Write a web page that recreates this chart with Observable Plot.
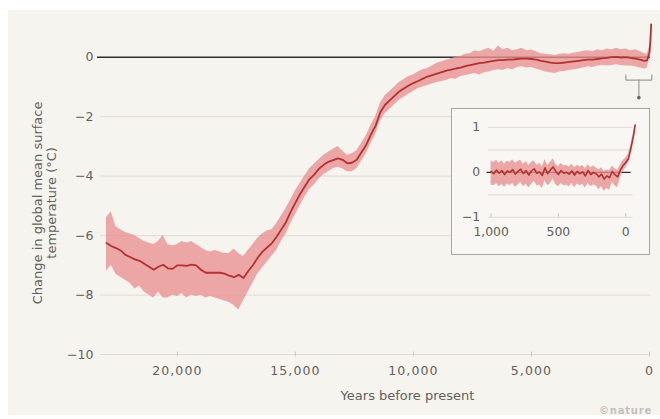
<!DOCTYPE html>
<html>
<head>
<meta charset="utf-8">
<script src="https://cdn.jsdelivr.net/npm/d3@7"></script>
<script src="https://cdn.jsdelivr.net/npm/@observablehq/plot@0.6"></script>
<style>
  html, body { margin: 0; padding: 0; background: #ffffff; }
  #wrap { position: relative; width: 660px; height: 419px; overflow: hidden; }
  #panel { position: absolute; left: 8px; top: 10px; width: 652px; height: 405px; background: #f6f4ef; }
  #main { position: absolute; left: 0; top: 0; }
  #inset { position: absolute; left: 451px; top: 108px; width: 199px; height: 147px; box-sizing: border-box; border: 1.2px solid #a9a7a2; background: #f8f7f3; }
  #inset svg { position: absolute; left: -1px; top: -1px; }
  #credit { position: absolute; right: 8px; top: 405px; font: 600 10px "DejaVu Sans", sans-serif; color: #c3c1bc; letter-spacing: 0.8px; }
  .tk text { letter-spacing: 1.1px; }
</style>
</head>
<body>
<div id="wrap">
  <div id="panel"></div>
  <div id="main"></div>
  <div id="inset"></div>
  <div id="credit">©nature</div>
</div>
<script>
// ---- Main series: years before present, mean and uncertainty band (°C) ----
const years = [23000,22800,22600,22400,22200,22000,21800,21600,21400,21200,21000,20800,20600,20400,20200,20000,19800,19600,19400,19200,19000,18800,18600,18400,18200,18000,17800,17600,17400,17200,17000,16800,16600,16400,16200,16000,15800,15600,15400,15200,15000,14800,14600,14400,14200,14000,13800,13600,13400,13200,13000,12800,12600,12400,12200,12000,11800,11600,11400,11200,11000,10800,10600,10400,10200,10000,9800,9600,9400,9200,9000,8800,8600,8400,8200,8000,7800,7600,7400,7200,7000,6800,6600,6400,6200,6000,5800,5600,5400,5200,5000,4800,4600,4400,4200,4000,3800,3600,3400,3200,3000,2800,2600,2400,2200,2000,1800,1600,1400,1200,1000,800,600,400,200,100,0,-40,-70];
const meanTemp = [-6.25,-6.35,-6.42,-6.5,-6.65,-6.72,-6.8,-6.85,-6.95,-7.05,-7.15,-7.05,-6.98,-7.1,-7.12,-7.0,-7.0,-7.02,-6.98,-7.0,-7.15,-7.25,-7.25,-7.25,-7.25,-7.28,-7.35,-7.4,-7.32,-7.43,-7.2,-7.0,-6.75,-6.55,-6.4,-6.26,-6.05,-5.8,-5.55,-5.2,-4.9,-4.6,-4.35,-4.1,-3.95,-3.75,-3.62,-3.52,-3.46,-3.4,-3.45,-3.57,-3.55,-3.45,-3.2,-2.95,-2.6,-2.3,-1.85,-1.6,-1.45,-1.3,-1.15,-1.05,-0.95,-0.87,-0.8,-0.72,-0.65,-0.6,-0.55,-0.5,-0.45,-0.42,-0.38,-0.35,-0.3,-0.27,-0.23,-0.2,-0.18,-0.15,-0.12,-0.1,-0.1,-0.08,-0.08,-0.06,-0.05,-0.05,-0.06,-0.08,-0.12,-0.15,-0.18,-0.2,-0.2,-0.18,-0.16,-0.14,-0.12,-0.1,-0.08,-0.08,-0.06,-0.04,-0.02,0.0,0.01,-0.01,0.0,-0.02,-0.05,-0.08,-0.12,-0.1,0.15,0.55,1.1];
const lowTemp = [-7.2,-7.0,-7.3,-7.4,-7.5,-7.6,-7.8,-7.7,-7.9,-8.0,-8.1,-7.9,-8.1,-8.1,-8.0,-8.05,-7.95,-8.1,-8.0,-8.05,-8.0,-8.1,-8.05,-8.1,-8.15,-8.2,-8.25,-8.35,-8.5,-8.2,-7.9,-7.6,-7.3,-7.1,-6.9,-6.7,-6.5,-6.2,-5.95,-5.6,-5.3,-5.0,-4.7,-4.45,-4.3,-4.1,-3.95,-3.85,-3.75,-3.7,-3.75,-3.85,-3.85,-3.75,-3.5,-3.25,-2.9,-2.6,-2.15,-1.9,-1.75,-1.6,-1.45,-1.35,-1.25,-1.15,-1.05,-1.0,-0.95,-0.9,-0.85,-0.82,-0.78,-0.72,-0.74,-0.65,-0.62,-0.58,-0.55,-0.6,-0.52,-0.5,-0.45,-0.42,-0.45,-0.38,-0.42,-0.35,-0.32,-0.36,-0.35,-0.4,-0.45,-0.5,-0.52,-0.55,-0.5,-0.48,-0.45,-0.42,-0.4,-0.36,-0.32,-0.35,-0.3,-0.28,-0.3,-0.28,-0.25,-0.28,-0.3,-0.3,-0.32,-0.36,-0.4,-0.38,-0.05,0.45,1.0];
const highTemp = [-5.4,-5.2,-5.7,-5.8,-5.9,-5.95,-6.0,-6.1,-6.2,-6.25,-6.3,-6.2,-6.0,-6.3,-6.35,-6.3,-6.2,-6.25,-6.2,-6.3,-6.4,-6.5,-6.55,-6.5,-6.55,-6.6,-6.6,-6.45,-6.6,-6.7,-6.5,-6.3,-6.1,-5.95,-5.85,-5.8,-5.6,-5.35,-5.1,-4.8,-4.5,-4.25,-4.0,-3.75,-3.6,-3.45,-3.3,-3.2,-3.1,-3.0,-3.15,-3.3,-3.25,-3.15,-2.9,-2.65,-2.3,-2.0,-1.55,-1.3,-1.15,-1.0,-0.85,-0.75,-0.65,-0.6,-0.5,-0.42,-0.38,-0.3,-0.2,-0.15,-0.1,-0.05,0.0,0.02,0.1,0.12,0.22,0.18,0.25,0.3,0.2,0.38,0.25,0.3,0.22,0.25,0.3,0.22,0.24,0.18,0.12,0.1,0.08,0.06,0.1,0.12,0.1,0.14,0.16,0.2,0.22,0.18,0.25,0.22,0.28,0.24,0.3,0.25,0.28,0.22,0.25,0.18,0.12,0.1,0.35,0.7,1.15];

// ---- Inset: last 1,000 years ----
const insetYears = [1000,980,960,940,920,900,880,860,840,820,800,780,760,740,720,700,680,660,640,620,600,580,560,540,520,500,480,460,440,420,400,380,360,340,320,300,280,260,240,220,200,180,160,140,120,100,80,60,40,20,0,-20,-40,-60,-70];
const insetMean = [0.02,-0.03,0.05,-0.02,0.04,-0.05,0.03,0.0,0.06,-0.04,0.02,0.07,-0.03,0.04,-0.06,0.03,0.08,-0.02,0.01,-0.07,0.1,-0.03,0.05,0.12,0.02,-0.05,0.04,-0.02,0.0,-0.04,0.03,-0.06,0.02,-0.03,0.01,-0.08,0.04,-0.05,0.0,-0.03,-0.1,-0.04,-0.15,-0.08,-0.12,0.02,-0.05,-0.1,0.05,0.15,0.22,0.3,0.55,0.85,1.05];
const insetHigh = [0.25,0.22,0.27,0.2,0.26,0.18,0.25,0.22,0.28,0.2,0.24,0.27,0.18,0.24,0.15,0.22,0.26,0.16,0.2,0.12,0.28,0.15,0.22,0.3,0.18,0.12,0.2,0.14,0.16,0.12,0.18,0.1,0.16,0.12,0.15,0.08,0.17,0.1,0.14,0.1,0.05,0.1,0.02,0.06,0.03,0.14,0.08,0.04,0.16,0.26,0.32,0.4,0.64,0.92,1.1];
const insetLow = [-0.28,-0.3,-0.25,-0.32,-0.27,-0.33,-0.26,-0.3,-0.24,-0.33,-0.28,-0.22,-0.32,-0.26,-0.35,-0.27,-0.2,-0.3,-0.28,-0.36,-0.18,-0.3,-0.25,-0.15,-0.27,-0.32,-0.25,-0.3,-0.28,-0.32,-0.25,-0.34,-0.26,-0.3,-0.27,-0.35,-0.24,-0.32,-0.28,-0.3,-0.38,-0.32,-0.42,-0.36,-0.4,-0.22,-0.3,-0.34,-0.12,0.02,0.1,0.2,0.46,0.78,1.0];

// ---- Ticks & labels ----
const xTicks = [20000, 15000, 10000, 5000, 0];
const yTicks = [0, -2, -4, -6, -8, -10];
const insetXTicks = [1000, 500, 0];
const insetYTicks = [1, 0, -1];
const insetGrid = [1, 0.5, -0.5, -1];
const insetSpan = [1000, -100];   // bracket marking the inset range
const yLabelLines = ["Change in global mean surface", "temperature (°C)"];
const xLabel = "Years before present";

const series = years.map((y, i) => ({year: y, mean: meanTemp[i], lo: lowTemp[i], hi: highTemp[i]}));
const insetSeries = insetYears.map((y, i) => ({year: y, mean: insetMean[i], lo: insetLow[i], hi: insetHigh[i]}));

const FONT = "'DejaVu Sans', sans-serif";
const TXT = "#62615c";
const bandFill = "#e98f8f";
const lineCol = "#b3312f";
const minus = d => d < 0 ? "\u2212" + Math.abs(d) : String(d);

const main = Plot.plot({
  width: 660, height: 419,
  marginLeft: 106, marginRight: 11, marginTop: 24, marginBottom: 65,
  style: {background: "transparent", fontFamily: FONT, fontSize: "12.5px", color: TXT},
  x: {domain: [23000, 0], ticks: xTicks},
  y: {domain: [-10, 1.1], ticks: yTicks},
  marks: [
    Plot.ruleY(yTicks.filter(d => d !== 0 && d !== -10), {x1: 23250, x2: -40, stroke: "#e3e0d9", strokeWidth: 1.2}),
    Plot.ruleY([-10], {x1: 23250, x2: -40, stroke: "#dedbd4", strokeWidth: 1.2}),
    Plot.ruleX(xTicks, {y1: -10.08, y2: -9.92, stroke: "#c9c6bf"}),
    Plot.ruleY([0], {x1: 23380, x2: -40, stroke: "#2f2e2c", strokeWidth: 1.6}),
    Plot.areaY(series, {x: "year", y1: "lo", y2: "hi", fill: bandFill, fillOpacity: 0.78, curve: "linear"}),
    Plot.line(series, {x: "year", y: "mean", stroke: lineCol, strokeWidth: 1.8}),
    // bracket + pointer to the inset
    Plot.line([{x: insetSpan[0], y: -0.6}, {x: insetSpan[0], y: -0.77}, {x: insetSpan[1], y: -0.77}, {x: insetSpan[1], y: -0.6}], {x: "x", y: "y", stroke: "#8a8884", strokeWidth: 1}),
    Plot.ruleX([(insetSpan[0] + insetSpan[1]) / 2], {y1: -0.77, y2: -1.32, stroke: "#8a8884", strokeWidth: 1}),
    Plot.dot([(insetSpan[0] + insetSpan[1]) / 2], {x: d => d, y: -1.36, r: 1.8, fill: "#6a6864"}),
    Plot.axisX(xTicks, {tickSize: 0, tickPadding: 12, tickFormat: d3.format(","), fill: TXT, label: null, className: "tk"}),
    Plot.axisY(yTicks, {tickSize: 0, tickPadding: 13, tickFormat: minus, fill: TXT, label: null}),
    Plot.text([xLabel], {x: 10250, y: -11.4, fill: TXT, fontSize: 13}),
    Plot.text([yLabelLines[0]], {x: 25900, y: -4.9, rotate: -90, fill: TXT, fontSize: 13}),
    Plot.text([yLabelLines[1]], {x: 25300, y: -4.9, rotate: -90, fill: TXT, fontSize: 13})
  ]
});
document.getElementById("main").appendChild(main);

const inset = Plot.plot({
  width: 199, height: 147,
  marginLeft: 40, marginRight: 23, marginTop: 19, marginBottom: 37,
  style: {background: "transparent", fontFamily: FONT, fontSize: "12.5px", color: TXT},
  x: {domain: [1000, 0], ticks: insetXTicks},
  y: {domain: [-1, 1], ticks: insetYTicks},
  marks: [
    Plot.ruleY(insetGrid, {x1: 1020, x2: -55, stroke: "#e3e0d9", strokeWidth: 1.2}),
    Plot.ruleX(insetXTicks, {y1: -1, y2: -0.92, stroke: "#c9c6bf"}),
    Plot.ruleY([0], {x1: 1030, x2: -40, stroke: "#2f2e2c", strokeWidth: 1.4}),
    Plot.areaY(insetSeries, {x: "year", y1: "lo", y2: "hi", fill: bandFill, fillOpacity: 0.78}),
    Plot.line(insetSeries, {x: "year", y: "mean", stroke: lineCol, strokeWidth: 1.6}),
    Plot.axisX(insetXTicks, {tickSize: 0, tickPadding: 10, tickFormat: d3.format(","), fill: TXT, label: null}),
    Plot.axisY(insetYTicks, {tickSize: 0, tickPadding: 11, tickFormat: minus, fill: TXT, label: null})
  ]
});
document.getElementById("inset").appendChild(inset);
</script>
</body>
</html>
